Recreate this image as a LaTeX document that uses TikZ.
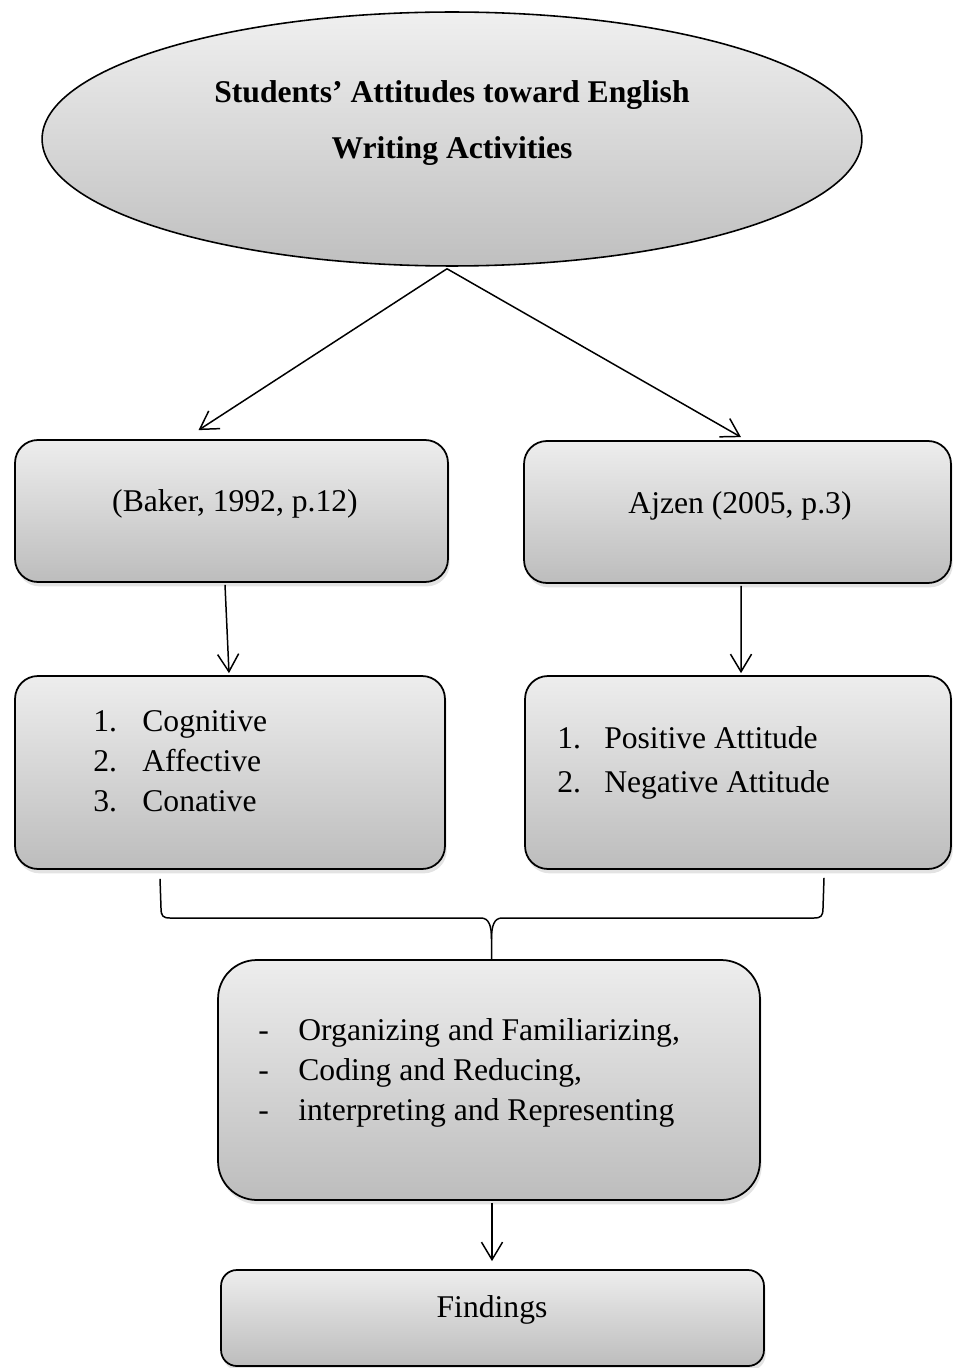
\documentclass[tikz,border=0pt]{standalone}
\usepackage{fontspec}
\setmainfont{Liberation Serif}
\usetikzlibrary{arrows.meta,shapes.geometric,shadows}

\newcommand{\itemno}[2][27pt]{\makebox[#1][l]{#2}}

\tikzset{
  panel/.style={draw, line width=1pt, rounded corners=13pt, inner sep=0pt,
    top color=black!7, bottom color=black!26,
    drop shadow={shadow xshift=1pt, shadow yshift=-2.5pt, opacity=0.22}},
  oval/.style={draw, ellipse, line width=0.9pt, inner sep=0pt,
    top color=black!6, bottom color=black!25},
  txt/.style={inner sep=0pt, font=\fontsize{18}{22}\selectfont},
  arr/.style={-{Straight Barb[length=10pt,width=12pt]}, line width=0.85pt},
  brace/.style={line width=0.85pt}
}

\begin{document}
\begin{tikzpicture}[x=0.02cm, y=-0.02cm]
\useasboundingbox (0,0) rectangle (953,1368);

% title
\node[oval, minimum width=16.4cm, minimum height=5.08cm] (title) at (452,139) {};
\node[txt, align=center, font=\bfseries\fontsize{18}{31.9}\selectfont] (titleTxt) at (452,123)
  {Students’ Attitudes toward English\\Writing Activities};

% sources
\node[panel, minimum width=8.66cm, minimum height=2.84cm] (baker) at (231.5,511) {};
\node[txt] (bakerTxt) at (235,504) {(Baker, 1992, p.12)};
\node[panel, minimum width=8.54cm, minimum height=2.84cm] (ajzen) at (737.5,512) {};
\node[txt] (ajzenTxt) at (740,506) {Ajzen (2005, p.3)};

% components
\node[panel, minimum width=8.6cm, minimum height=3.86cm] (bakerList) at (230,772.5) {};
\node[txt, anchor=west, align=left, font=\fontsize{18}{22.8}\selectfont] (bakerItems) at (93,761)
  {\itemno[27.9pt]{1.}Cognitive\\\itemno[27.9pt]{2.}Affective\\\itemno[27.9pt]{3.}Conative};
\node[panel, minimum width=8.52cm, minimum height=3.86cm] (ajzenList) at (738,772.5) {};
\node[txt, anchor=west, align=left, font=\fontsize{18}{25}\selectfont] (ajzenItems) at (557,763)
  {\itemno[26.7pt]{1.}Positive Attitude\\\itemno[26.7pt]{2.}Negative Attitude};

% analysis
\node[panel, rounded corners=22pt, minimum width=10.84cm, minimum height=4.8cm] (steps) at (489,1080) {};
\node[txt, anchor=west, align=left, font=\fontsize{18}{23}\selectfont] (stepsItems) at (258,1073)
  {\itemno[22.8pt]{-}Organizing and Familiarizing,\\\itemno[22.8pt]{-}Coding and Reducing,\\\itemno[22.8pt]{-}interpreting and Representing};

\node[panel, rounded corners=9pt, minimum width=10.86cm, minimum height=1.92cm] (findings) at (492.5,1318) {};
\node[txt] (findingsTxt) at (492,1310) {Findings};

% arrows
\draw[arr] ([shift={(-5,2)}]title.south) -- ([shift={(-33,-9)}]baker.north);
\draw[arr] ([shift={(-5,2)}]title.south) -- ([shift={(3.5,-3)}]ajzen.north);
\draw[arr] ([shift={(-6.5,2)}]baker.south) -- ([shift={(-1,-2)}]bakerList.north);
\draw[arr] ([shift={(3.5,2)}]ajzen.south) -- ([shift={(3,-2)}]ajzenList.north);
\draw[arr] ([shift={(3,2)}]steps.south) -- ([shift={(-0.5,-8)}]findings.north);

% brace
\coordinate (braceTip) at ([shift={(2.5,-20)}]steps.north);
\draw[brace] ([shift={(-70,9)}]bakerList.south) -- (161,908)
  .. controls (161,916) and (163,918) .. (170,918) -- (481,918)
  .. controls (489,918) and (491.5,926) .. (braceTip) -- (braceTip |- steps.north);
\draw[brace] ([shift={(86,8)}]ajzenList.south) -- (823,908)
  .. controls (823,916) and (821,918) .. (814,918) -- (502,918)
  .. controls (494,918) and (491.5,926) .. (braceTip);
\end{tikzpicture}
\end{document}
